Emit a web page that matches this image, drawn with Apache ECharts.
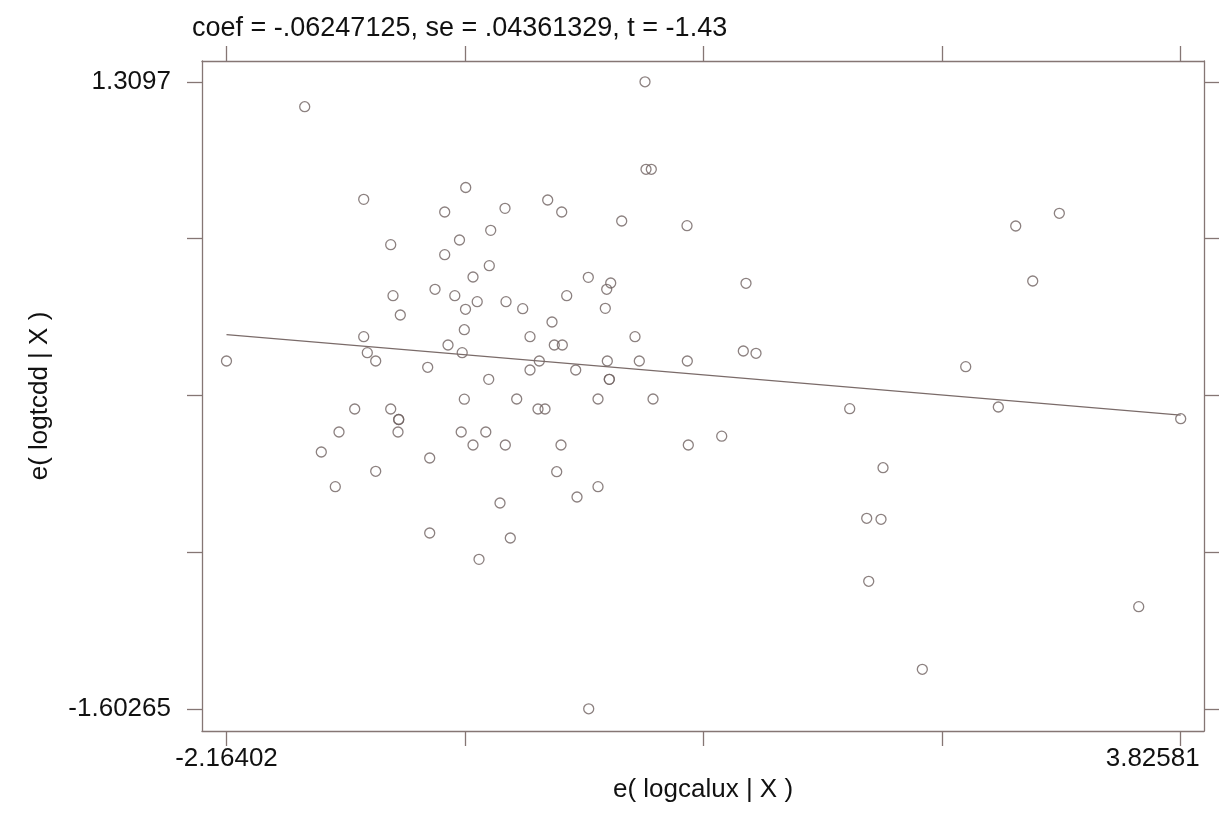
<!DOCTYPE html>
<html>
<head>
<meta charset="utf-8">
<script src="https://cdn.jsdelivr.net/npm/echarts@6/dist/echarts.min.js"></script>
<style>
html,body{margin:0;padding:0;background:#fff;overflow:hidden;width:1221px;height:822px;}
#chart{width:1221px;height:822px;}
</style>
</head>
<body>
<div id="chart"></div>
<script>
// ---- data ----
const titleText = 'coef = -.06247125, se = .04361329, t = -1.43';
const xName = 'e( logcalux | X )';
const yName = 'e( logtcdd | X )';
const coef = -0.06247125;

const xTickValues = [-2.16402, -0.6665625, 0.830895, 2.3283525, 3.82581];
const yTickValues = [1.3097, 0.5816125, -0.146475, -0.8745625, -1.60265];
const xTickLabels = ['-2.16402', '3.82581'];
const yTickLabels = ['1.3097', '-1.60265'];
const xLabelValues = [-2.16402, 3.82581];
const yLabelValues = [1.3097, -1.60265];

const xs = [
 -2.16402, -1.6731, -1.3027, -1.1332, -1.1188, -1.0730, -1.3027, -1.2801, -1.2274, -1.3592,
 -1.1332, -1.0830, -1.0830, -1.0874, -1.4578, -1.5689, -1.2274, -1.4810, -0.8884, -0.8884,
 -0.9010, -0.7943, -0.6624, -0.7014, -0.7943, -0.8551, -0.7309, -0.6637, -0.6166, -0.5902,
 -0.5055, -0.5143, -0.4157, -0.4094, -0.6712, -0.7735, -0.6844, -0.5180, -0.6712, -0.6907,
 -0.6166, -0.5363, -0.4138, -0.3423, -0.4471, -0.3825, -0.5789, -0.3046, -0.2588, -0.2004,
 -0.2588, -0.1207, -0.1062, -0.0560, -0.0284, -0.1477, -0.0598, -0.2086, -0.1646, -0.0642,
 -0.0912, 0.0363, 0.1681, 0.1681, 0.0281, 0.1072, 0.2227, 0.2478, 0.2139, 0.2265,
 0.2390, 0.2390, 0.3168, 0.4003, 0.4273, 0.5134, 0.4631, 0.4694, 0.5027, 0.7268,
 0.7287, 0.7349, 0.9446, 1.0971, 1.0802, 1.1599, 1.7481, 1.9572, 1.8548, 1.9446,
 1.8674, 2.2039, 0.1097, 2.4763, 2.6809, 2.7902, 2.8969, 3.0639, 3.5623, 3.82581
];
const ys = [
 0.0128, 1.1940, 0.7639, 0.5531, 0.3162, 0.2265, 0.1257, 0.0514, 0.0128, -0.2101,
 -0.2101, -0.2589, -0.2589, -0.3170, -0.3170, -0.4098, -0.4995, -0.5710, -0.7861, -0.4377,
 -0.0164, 0.7049, 0.8187, 0.5749, 0.5066, 0.3459, 0.3162, 0.2530, 0.4030, 0.2883,
 0.6199, 0.4555, 0.7221, 0.2883, 0.1582, 0.0872, 0.0514, -0.0722, -0.1646, -0.3170,
 -0.3773, -0.3170, -0.3773, -0.1637, -0.6467, -0.8093, -0.9083, 0.2558, 0.1257, 0.0128,
 -0.0290, 0.1940, 0.0872, 0.0872, 0.3162, 0.7607, 0.7049, -0.2101, -0.2101, -0.3773,
 -0.5014, -0.6189, -0.5710, -0.1637, -0.0290, 0.4016, 0.3459, 0.3752, 0.2576, 0.0128,
 -0.0722, -0.0722, 0.6631, 0.1257, 0.0128, -0.1637, 1.3097, 0.9033, 0.9033, 0.6413,
 0.0128, -0.3773, -0.3364, 0.3738, 0.0593, 0.0486, -0.2087, -0.4828, -0.7178, -0.7224,
 -1.0104, -1.4192, -1.60265, -0.0136, -0.2008, 0.6399, 0.3844, 0.6989, -1.1284, -0.2552
];

// ---- chart ----
const frameColor = '#857674';
const markColor = '#6f6260';
const fontFam = "Arial, 'Liberation Sans', Helvetica, sans-serif";

const points = xs.map((x, i) => [x, ys[i]]);
const xMinData = Math.min(...xs), xMaxData = Math.max(...xs);
const fitLine = [[xMinData, coef * xMinData], [xMaxData, coef * xMaxData]];

const xMin = -2.3178, xMax = 3.9721, yMin = -1.7058, yMax = 1.4063;

function axisCommon(dim, pos, showLabels) {
  const tickVals = dim === 'x' ? xTickValues : yTickValues;
  const labVals = dim === 'x' ? xLabelValues : yLabelValues;
  const labTxt = dim === 'x' ? xTickLabels : yTickLabels;
  return {
    type: 'value',
    position: pos,
    min: dim === 'x' ? xMin : yMin,
    max: dim === 'x' ? xMax : yMax,
    splitLine: { show: false },
    axisLine: { show: true, onZero: false, lineStyle: { color: frameColor, width: 1.3 } },
    axisTick: { show: true, inside: false, length: 15, customValues: tickVals,
                lineStyle: { color: frameColor, width: 1.3 } },
    axisLabel: {
      show: showLabels,
      customValues: labVals,
      margin: dim === 'x' ? 15 : 31,
      color: '#111',
      fontSize: 26,
      fontFamily: fontFam,
      rich: {
        shift: { fontSize: 26, fontFamily: fontFam, color: '#111', padding: [0, 56, 0, 0] }
      },
      formatter: function (v) {
        for (let i = 0; i < labVals.length; i++) {
          if (Math.abs(v - labVals[i]) < 1e-6) {
            if (dim === 'x' && i === labVals.length - 1) return '{shift|' + labTxt[i] + '}';
            return labTxt[i];
          }
        }
        return '';
      }
    }
  };
}

const chart = echarts.init(document.getElementById('chart'), null, { width: 1221, height: 822 });
const xBottom = Object.assign(axisCommon('x', 'bottom', true), {
  name: xName, nameLocation: 'middle', nameGap: 34,
  nameTextStyle: { color: '#111', fontSize: 26, fontFamily: fontFam }
});
const yLeft = Object.assign(axisCommon('y', 'left', true), {
  name: yName, nameLocation: 'middle', nameGap: 149,
  nameTextStyle: { color: '#111', fontSize: 26, fontFamily: fontFam }
});
const xTop = axisCommon('x', 'top', false);
const yRight = axisCommon('y', 'right', false);

chart.setOption({
  animation: false,
  backgroundColor: '#ffffff',
  title: {
    text: titleText, left: 187, top: 10,
    textStyle: { color: '#111', fontSize: 27, fontWeight: 'normal', fontFamily: fontFam }
  },
  grid: { left: 202, right: 17, top: 61, bottom: 91, containLabel: false, outerBoundsMode: 'none' },
  xAxis: [xBottom, xTop],
  yAxis: [yLeft, yRight],
  series: [
    {
      type: 'scatter', xAxisIndex: 0, yAxisIndex: 0,
      data: points, symbol: 'circle', symbolSize: 10,
      itemStyle: { color: 'rgba(255,255,255,0)', borderColor: markColor, borderWidth: 1.3 }
    },
    {
      type: 'line', xAxisIndex: 0, yAxisIndex: 0,
      data: fitLine, showSymbol: false, symbol: 'none',
      lineStyle: { color: '#7a6b69', width: 1.3 }
    }
  ]
});
</script>
</body>
</html>
